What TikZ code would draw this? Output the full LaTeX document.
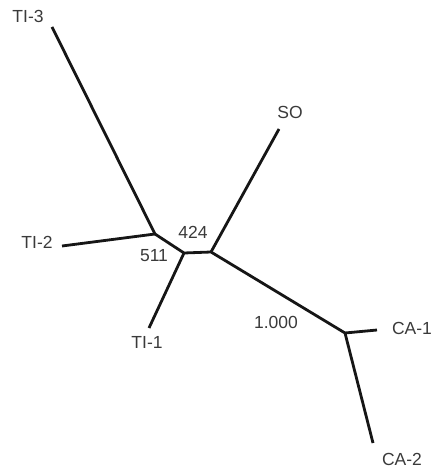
\documentclass[tikz,border=0pt]{standalone}
\usepackage{fontspec}
\setmainfont{Liberation Sans}
\usetikzlibrary{positioning}
\definecolor{ink}{HTML}{161616}
\definecolor{labelgray}{HTML}{3A3A3A}
\tikzset{
  branch/.style={line width=2.8pt,draw=ink,line join=round},
  taxon/.style={font=\fontsize{17.5}{20}\selectfont,text=labelgray,inner sep=0pt},
  boot/.style={font=\fontsize{17.5}{20}\selectfont,text=labelgray,inner sep=0pt},
}

\begin{document}
\begin{tikzpicture}[x=1pt,y=-1pt]
  \useasboundingbox (0,0) rectangle (434,470);
  % inner nodes of the tree
  \coordinate (n1) at (155,234);
  \coordinate (n2) at (184,253);
  \coordinate (n3) at (211,252);
  \coordinate (n4) at (345,333);
  % leaf ends
  \coordinate (ti3) at (52,27);
  \coordinate (ti2) at (62,246);
  \coordinate (ti1) at (149,328);
  \coordinate (so) at (279,129);
  \coordinate (ca1) at (377,330);
  \coordinate (ca2) at (373,443);
  \draw[branch] (ti3) -- (n1) -- (n2) -- (n3) -- (n4) -- (ca2);
  \draw[branch] (ti2) -- (n1);
  \draw[branch] (ti1) -- (n2);
  \draw[branch] (so) -- (n3);
  \draw[branch] (ca1) -- (n4);
  % labels
  \node[taxon] (lti3) at (28,16) {TI-3};
  \node[taxon] (lti2) at (37,242) {TI-2};
  \node[taxon] (lti1) at (147,342) {TI-1};
  \node[taxon] (lso) at (290,112) {SO};
  \node[taxon] (lca1) at (412,328) {CA-1};
  \node[taxon] (lca2) at (402,459) {CA-2};
  \node[boot] (b424) at (193,232) {424};
  \node[boot] (b511) at (154,256) {511};
  \node[boot] (b1000) at (276,322) {1.000};
\end{tikzpicture}
\end{document}
